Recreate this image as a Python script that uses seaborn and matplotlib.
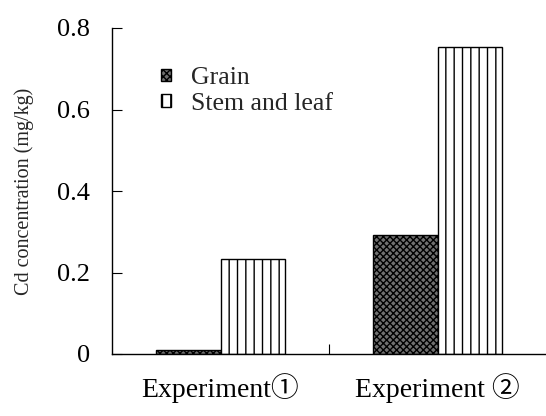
import matplotlib
matplotlib.use("Agg")
import matplotlib.pyplot as plt
import seaborn as sns
import pandas as pd
from matplotlib.ticker import FixedLocator

experiments = ["Experiment\u2460", "Experiment \u2461"]
parts = ["Grain", "Stem and leaf"]
grain = [0.01, 0.292]
stem_leaf = [0.232, 0.753]
yticks = [0, 0.2, 0.4, 0.6, 0.8]
ytick_labels = ["0", "0.2", "0.4", "0.6", "0.8"]

df = pd.DataFrame({
    "exp": experiments * 2,
    "part": [parts[0]] * 2 + [parts[1]] * 2,
    "val": grain + stem_leaf,
})

sns.set_theme(style="white")
plt.rcParams["font.family"] = ["Liberation Serif", "DejaVu Serif", "Noto Sans CJK JP"]
plt.rcParams["hatch.linewidth"] = 1.0
plt.rcParams["hatch.color"] = "black"

fig = plt.figure(figsize=(5.46, 4.16), dpi=100)
ax = fig.add_axes([112 / 546, 62 / 416, 434 / 546, 326 / 416])

sns.barplot(data=df, x="exp", y="val", hue="part", hue_order=parts,
            palette=["#707070", "white"], width=0.59, gap=0,
            edgecolor="black", linewidth=1.0, ax=ax, legend=False)

hatches = ["xxxxx", "||"]
for cont, h in zip(ax.containers, hatches):
    for bar in cont:
        bar.set_hatch(h)
        bar.set_edgecolor("black")

ax.set_xlim(-0.5, 1.5)
ax.set_ylim(0, 0.8)
ax.set_yticks(yticks)
ax.set_yticklabels(ytick_labels)
ax.set_xlabel("")
ax.set_ylabel("Cd concentration (mg/kg)", fontsize=14.5)
ax.yaxis.set_label_coords(-0.18, 0.5)

for s in ["top", "right"]:
    ax.spines[s].set_visible(False)
for s in ["left", "bottom"]:
    ax.spines[s].set_color("black")
    ax.spines[s].set_linewidth(1.0)

ax.tick_params(axis="y", direction="in", length=7.5, width=0.8, pad=16,
               labelsize=19, colors="black", left=True)
ax.tick_params(axis="x", which="major", length=0, pad=14, labelsize=20,
               colors="black", bottom=True)
ax.xaxis.set_minor_locator(FixedLocator([0.5]))
ax.tick_params(axis="x", which="minor", direction="in", length=7.5,
               width=0.8, bottom=True, color="black")

ax.legend(handles=[ax.containers[0][0], ax.containers[1][0]], labels=parts,
          loc="upper left", bbox_to_anchor=(0.112, 0.88), frameon=False,
          fontsize=18.5, handlelength=0.42, handleheight=0.38,
          handletextpad=0.75, labelspacing=0.15, borderpad=0, borderaxespad=0)

fig.savefig("out.png", dpi=100)
